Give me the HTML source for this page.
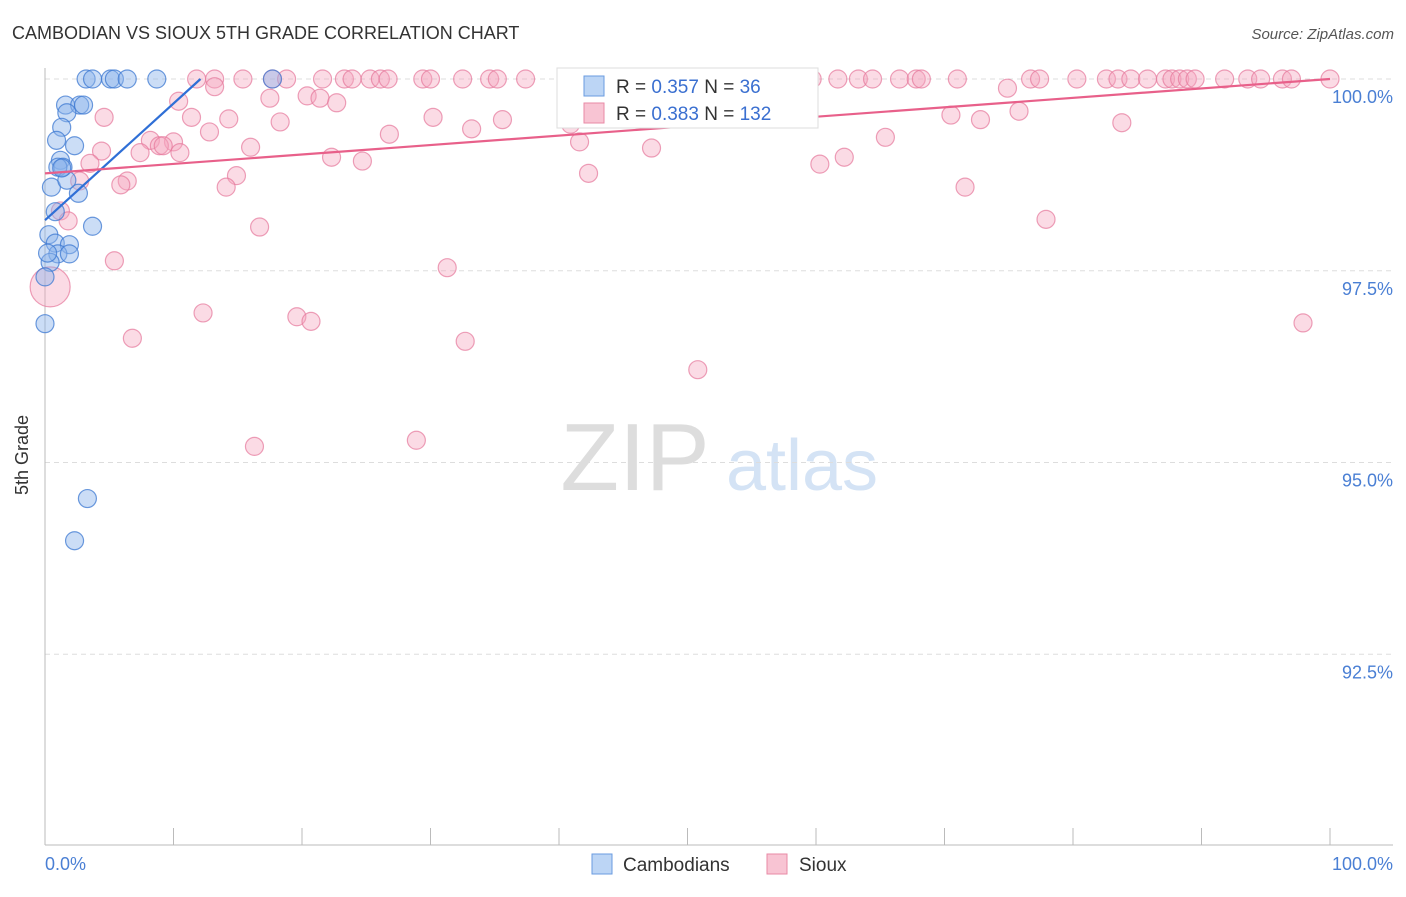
<!DOCTYPE html>
<html><head><meta charset="utf-8"><style>
body{margin:0;background:#fff;font-family:"Liberation Sans",sans-serif;}
svg text{font-family:"Liberation Sans",sans-serif;}
</style></head><body>
<svg id="chart" width="1406" height="892" xmlns="http://www.w3.org/2000/svg">
<text x="12" y="39" font-size="18" fill="#333">CAMBODIAN VS SIOUX 5TH GRADE CORRELATION CHART</text>
<text x="1394" y="39" font-size="15" fill="#555" text-anchor="end" font-style="italic">Source: ZipAtlas.com</text>
<g>
<text x="635" y="490" font-size="96" fill="#ddd" font-family="Liberation Serif,serif" text-anchor="middle">ZIP</text>
<text x="802" y="490" font-size="72" fill="#d4e3f5" text-anchor="middle">atlas</text>
</g>
<g id="grid"></g>
<g id="axes"></g>
<g id="pts"></g>
<g id="trends"></g>
<text x="28" y="455" font-size="18" fill="#333" text-anchor="middle" transform="rotate(-90 28 455)">5th Grade</text>
<text x="45" y="870" font-size="18" fill="#4a7fd4">0.0%</text>
<text x="1393" y="870" font-size="18" fill="#4a7fd4" text-anchor="end">100.0%</text>
<g>
<rect x="557" y="68" width="261" height="60" fill="#fff" stroke="#ddd"/>
<rect x="584" y="76" width="20" height="20" fill="#bcd5f5" stroke="#6a9be0"/>
<text x="616" y="93" font-size="19" fill="#333">R = <tspan fill="#3a6fd0">0.357</tspan>   N =  <tspan fill="#3a6fd0">36</tspan></text>
<rect x="584" y="103" width="20" height="20" fill="#f8c4d3" stroke="#e88aa6"/>
<text x="616" y="120" font-size="19" fill="#333">R = <tspan fill="#3a6fd0">0.383</tspan>   N = <tspan fill="#3a6fd0">132</tspan></text>
</g>
<g>
<rect x="592" y="854" width="20" height="20" fill="#bcd5f5" stroke="#6a9be0"/>
<text x="623" y="871" font-size="19" fill="#333">Cambodians</text>
<rect x="767" y="854" width="20" height="20" fill="#f8c4d3" stroke="#e88aa6"/>
<text x="799" y="871" font-size="19" fill="#333">Sioux</text>
</g>
</svg>
<script>
const yTicks=[100,97.5,95,92.5];
const yTickLabels=["100.0%","97.5%","95.0%","92.5%"];
const xTicks=[0,10,20,30,40,50,60,70,80,90,100];
const blueX=[3.2,3.7,5.1,5.4,6.4,8.7,17.7,1.6,2.7,3.0,1.7,1.3,0.9,2.3,1.2,1.4,1.0,0.5,2.6,1.7,0.8,3.7,0.3,0.8,1.9,1.0,1.9,0.4,0,0,3.3,2.3,0.2,1.3];
const blueY=[100,100,100,100,100,100,100,99.66,99.66,99.66,99.56,99.37,99.2,99.13,98.94,98.85,98.85,98.59,98.51,98.68,98.27,98.08,97.97,97.86,97.84,97.72,97.72,97.61,97.42,96.81,94.53,93.98,97.73,98.84];
const pinkTopX=[11.8,13.2,15.4,17.7,18.8,21.6,23.3,23.9,25.3,26.1,26.7,29.4,30.0,32.5,34.6,35.2,37.4,40.7,43.2,46.1,46.9,48.3,50.2,52.1,54.1,55.9,57.6,59.7,61.7,63.3,64.4,66.5,67.8,68.2,71.0,76.7,77.4,80.3,82.6,83.5,84.5,85.8,87.2,87.7,88.3,88.9,89.5,91.8,93.6,94.6,96.3,97.0,100];
const pinkX=[13.2,17.5,20.4,21.4,22.7,10.4,11.4,14.3,18.3,12.8,8.2,10.0,8.9,9.2,7.4,10.5,4.4,16.0,4.6,22.3,24.7,26.8,30.2,33.2,35.6,41.6,47.2,42.3,14.9,14.1,6.4,5.9,3.5,2.7,1.2,1.8,16.7,5.4,31.3,6.8,12.3,19.6,20.7,32.7,50.8,16.3,28.9,60.3,62.2,65.4,70.5,72.8,75.8,71.6,77.9,83.8,74.9,97.9,40.9,55.0];
const pinkY=[99.9,99.75,99.78,99.75,99.69,99.71,99.5,99.48,99.44,99.31,99.2,99.18,99.13,99.13,99.04,99.04,99.06,99.11,99.5,98.98,98.93,99.28,99.5,99.35,99.47,99.18,99.1,98.77,98.74,98.59,98.67,98.62,98.9,98.67,98.28,98.15,98.07,97.63,97.54,96.62,96.95,96.9,96.84,96.58,96.21,95.21,95.29,98.89,98.98,99.24,99.53,99.47,99.58,98.59,98.17,99.43,99.88,96.82,99.41,99.71];
const bigPink=[0.4,97.29];
const blueTrend=[[0,98.16],[12.1,100]];
const pinkTrend=[[0,98.77],[100,100]];
const NS="http://www.w3.org/2000/svg";
const xs=v=>45+v*12.85, ys=v=>79+(100-v)*76.7;
function mk(tag,attrs,parent){const e=document.createElementNS(NS,tag);for(const k in attrs)e.setAttribute(k,attrs[k]);parent.appendChild(e);return e;}
const grid=document.getElementById('grid'),axes=document.getElementById('axes'),pts=document.getElementById('pts'),tr=document.getElementById('trends');
yTicks.forEach((t,i)=>{
 const l=mk('line',{x1:45,x2:1393,y1:ys(t),y2:ys(t),stroke:'#ddd','stroke-dasharray':'5,4'},grid);
 
 
 const tx=mk('text',{x:1393,y:ys(t)+24,'font-size':18,fill:'#4a7fd4','text-anchor':'end'},axes);
 tx.textContent=yTickLabels[i];
 
 
});
const ax=mk('line',{x1:45,x2:1393,y1:845,y2:845,stroke:'#bbb'},axes);


const ay=mk('line',{x1:45,x2:45,y1:68,y2:845,stroke:'#bbb'},axes);


xTicks.forEach(t=>{
 const l=mk('line',{x1:xs(t),x2:xs(t),y1:828,y2:845,stroke:'#bbb'},axes);
 
 
});
function dot(x,y,r,fill,stroke,name){
 const c=mk('circle',{cx:xs(x),cy:ys(y),r:r,fill:fill,stroke:stroke,'stroke-width':1.2},pts);
 
 
}
const pf='rgba(244,164,190,0.4)',ps='rgba(230,120,155,0.7)',bf='rgba(140,180,235,0.45)',bs='rgba(60,120,210,0.75)';
pinkTopX.forEach(x=>dot(x,100,9,pf,ps,'sioux-point'));
pinkX.forEach((x,i)=>dot(x,pinkY[i],9,pf,ps,'sioux-point'));
dot(bigPink[0],bigPink[1],20,pf,ps,'sioux-point');
blueX.forEach((x,i)=>dot(x,blueY[i],9,bf,bs,'cambodian-point'));
const bt=mk('line',{x1:xs(blueTrend[0][0]),y1:ys(blueTrend[0][1]),x2:xs(blueTrend[1][0]),y2:ys(blueTrend[1][1]),stroke:'#2f6fd6','stroke-width':2.2},tr);


const pt=mk('line',{x1:xs(pinkTrend[0][0]),y1:ys(pinkTrend[0][1]),x2:xs(pinkTrend[1][0]),y2:ys(pinkTrend[1][1]),stroke:'#e8608a','stroke-width':2.2},tr);


</script>
</body></html>
